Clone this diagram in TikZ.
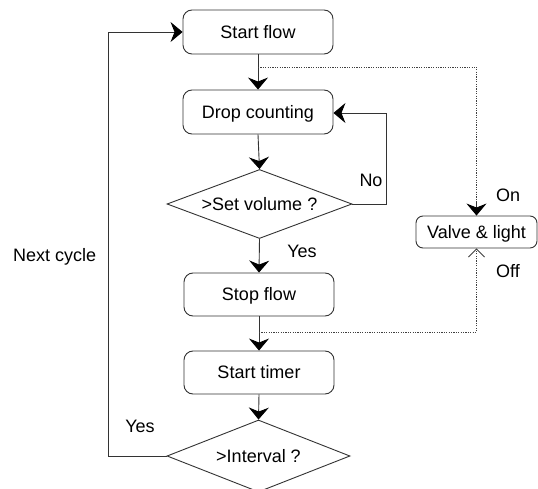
\documentclass[tikz,border=0pt]{standalone}
\usepackage{fontspec}
\setmainfont{Liberation Sans}
\usetikzlibrary{arrows.meta,shapes.geometric}
\tikzset{
  box/.style={draw=black!80, line width=0.9pt, rounded corners=9pt, minimum width=150pt, minimum height=44pt, inner sep=0pt, text height=12.9pt, text depth=0pt},
  dia/.style={draw=black!80, line width=0.9pt, diamond, aspect=2.7, inner sep=0pt, text height=12.9pt, text depth=0pt},
  lbl/.style={anchor=base, inner sep=0pt},
  tipA/.tip={Stealth[length=12pt,width=20pt,inset=4pt,color=black]},
  flow/.style={line width=0.9pt, draw=black!80, -tipA},
  dotline/.style={line width=0.8pt, draw=black!75, dash pattern=on 1.2pt off 1.2pt},
}
\begin{document}
\begin{tikzpicture}[x=1pt,y=-1pt, font=\fontsize{18pt}{20pt}\selectfont]
\useasboundingbox (0,0) rectangle (538,489);
\fill[white] (0,0) rectangle (538,489);
% nodes
\node[box] (sf) at (258,32) {Start flow};
\node[box] (dc) at (258,112) {Drop counting};
\node[dia, minimum width=185pt, minimum height=69pt] (sv) at (259.5,204) {>Set volume ?};
\node[box, minimum height=43pt] (sp) at (259,294.5) {Stop flow};
\node[box, minimum height=43pt] (st) at (259,372.5) {Start timer};
\node[dia, minimum width=183pt, minimum height=72pt] (iv) at (258.5,456) {>Interval ?};
\node[draw=black!80, line width=0.9pt, rounded corners=7pt, minimum width=121pt, minimum height=32pt, inner sep=0pt, text height=12.9pt, text depth=0pt] (va) at (476.5,232) {Valve \& light};
% coordinates
\coordinate (b1) at (258,67);
\coordinate (b1r) at (476.5,67);
\coordinate (b2) at (259,332);
\coordinate (b2r) at (476.5,332);
\coordinate (nor) at (386,204);
\coordinate (nou) at (386,113);
\coordinate (lb) at (108,456);
\coordinate (lt) at (108,32);
\coordinate (vtop) at (476.5,202);
% connectors
\draw[flow] (sf.south) -- (dc.north);
\draw[flow] (dc.south) -- (sv.north);
\draw[flow] (sv.south) -- (sp.north);
\draw[flow] (sp.south) -- (st.north);
\draw[flow] (st.south) -- (iv.north);
\draw[flow] (sv.east) -- (nor) -- (nou) -- (dc.east |- nou);
\draw[flow] (iv.west) -- (lb) -- (lt) -- (sf.west);
\draw[dotline] (b1) -- (b1r) -- (vtop);
\draw[flow] (vtop) -- (va.north);
\draw[dotline, -{Straight Barb[length=8pt,width=16pt,line width=0.8pt]}] (b2) -- (b2r) -- (va.south);
% labels
\node[lbl] (lno) at (371,187) {No};
\node[lbl] (lyes1) at (302,257) {Yes};
\node[lbl] (lon) at (508,202) {On};
\node[lbl] (loff) at (508,277) {Off};
\node[lbl] (lyes2) at (140,432) {Yes};
\node[lbl, anchor=base west] (lnext) at (13,261) {Next cycle};
\end{tikzpicture}
\end{document}
